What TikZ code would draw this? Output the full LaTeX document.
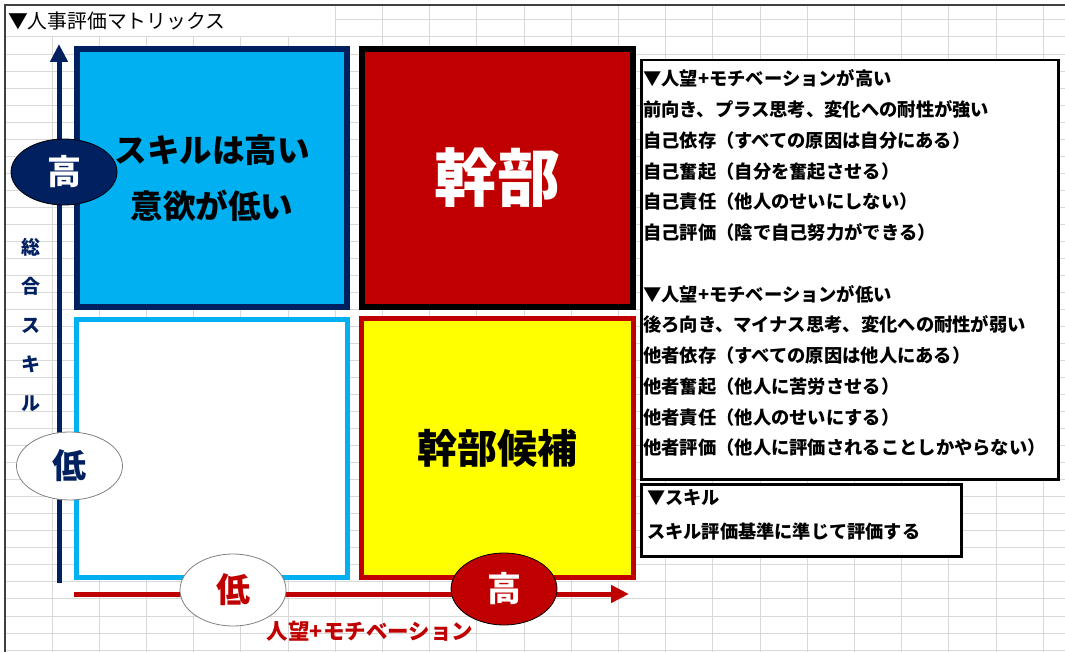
\documentclass[tikz,border=0pt]{standalone}
\usepackage{fontspec}
\setmainfont{Noto Sans CJK JP}
\usetikzlibrary{arrows.meta,shapes.geometric}
\definecolor{navy}{HTML}{002060}
\definecolor{skyb}{HTML}{00B0F0}
\definecolor{dred}{HTML}{C00000}
\definecolor{yel}{HTML}{FFFF00}
\definecolor{gridc}{HTML}{D9D9D9}
\begin{document}
\begin{tikzpicture}[x=1pt,y=-1pt,
  gridline/.style={draw=gridc, line width=1pt},
  quad/.style={rectangle, inner sep=0pt, align=center},
  ell/.style={ellipse, inner sep=0pt, minimum width=106pt, minimum height=68pt, line width=0.8pt, font=\bfseries\fontsize{34}{34}\selectfont},
  infobox/.style={rectangle, draw=black, line width=2.5pt, fill=white, inner sep=0pt, anchor=north west},
  infotext/.style={anchor=north west, inner sep=0pt, align=left},
  axisarrow/.style={line width=5pt, -{Triangle[width=17pt,length=18pt]}},
]
\useasboundingbox (0,0) rectangle (1065,652);
\fill[white] (0,0) rectangle (1065,652);
% spreadsheet grid
\foreach \i in {0,...,21} \draw[gridline] ({52+47.2*\i},37) -- ({52+47.2*\i},652);
\foreach \i in {6,...,21} \draw[gridline] ({52+47.2*\i},5) -- ({52+47.2*\i},37);
\foreach \j in {0,...,36} \draw[gridline] (5,{37+17.03*\j}) -- (1065,{37+17.03*\j});
\draw[gridline] (335,20) -- (1065,20);
\draw[black!75, line width=1.5pt] (5,652) -- (5,5) -- (1065,5);
% title
\node[anchor=west, inner sep=0pt, font=\fontsize{19.8}{19.8}\selectfont] (title) at (8,21) {▼人事評価マトリックス};
% quadrants
\node[quad, draw=navy, fill=skyb, line width=6pt, minimum width=270pt, minimum height=258pt,
      font=\bfseries\fontsize{32.5}{56}\selectfont] (tl) at (212,178) {スキルは高い\\意欲が低い};
\node[quad, draw=black, fill=dred, line width=6pt, minimum width=271pt, minimum height=258pt,
      text=white, font=\bfseries\fontsize{63}{63}\selectfont] (tr) at (497.5,178) {幹部};
\node[quad, draw=skyb, fill=white, line width=5pt, minimum width=271pt, minimum height=258pt] (bl) at (212,448.5) {};
\node[quad, draw=dred, fill=yel, line width=5pt, minimum width=272pt, minimum height=259pt,
      font=\bfseries\fontsize{40}{40}\selectfont] (br) at (497.5,448) {幹部候補};
% axes
\coordinate (vstart) at (59,583);
\coordinate (vend) at (59,44);
\draw[axisarrow, navy] (vstart) -- (vend);
\coordinate (hstart) at (74,594);
\coordinate (hend) at (629,594);
\draw[axisarrow, dred] (hstart) -- (hend);
% axis ellipses
\node[ell, fill=navy, draw=black, text=white, minimum height=66pt] (hiV) at (64,172) {高};
\node[ell, fill=white, draw=gray, text=navy] (loV) at (69.5,466) {低};
\node[ell, fill=white, draw=gray, text=dred, minimum height=72pt] (loH) at (233,590) {低};
\node[ell, fill=dred, draw=black, text=white, minimum height=72pt] (hiH) at (504,589) {高};
% axis labels
\node[inner sep=0pt, align=center, text=navy, font=\bfseries\fontsize{19}{39}\selectfont] (vlabel) at (31,325) {総\\合\\ス\\キ\\ル};
\node[inner sep=0pt, text=dred, font=\bfseries\fontsize{21.5}{21.5}\selectfont] (hlabel) at (370,631) {人望+モチベーション};
% info boxes
\node[infobox, minimum width=417pt, minimum height=419pt] (box1) at (640,59) {};
\node[infotext, font=\bfseries\fontsize{18.3}{30.75}\selectfont] (text1) at (643,69.5) {▼人望+モチベーションが高い\\
前向き、プラス思考、変化への耐性が強い\\
自己依存（すべての原因は自分にある）\\
自己奮起（自分を奮起させる）\\
自己責任（他人のせいにしない）\\
自己評価（陰で自己努力ができる）\\[30.75pt]
▼人望+モチベーションが低い\\
後ろ向き、マイナス思考、変化への耐性が弱い\\
他者依存（すべての原因は他人にある）\\
他者奮起（他人に苦労させる）\\
他者責任（他人のせいにする）\\
他者評価（他人に評価されることしかやらない）};
\node[infobox, minimum width=320pt, minimum height=72pt] (box2) at (640,483) {};
\node[infotext, font=\bfseries\fontsize{18.2}{34}\selectfont] (text2) at (647,489) {▼スキル\\スキル評価基準に準じて評価する};
\end{tikzpicture}
\end{document}
